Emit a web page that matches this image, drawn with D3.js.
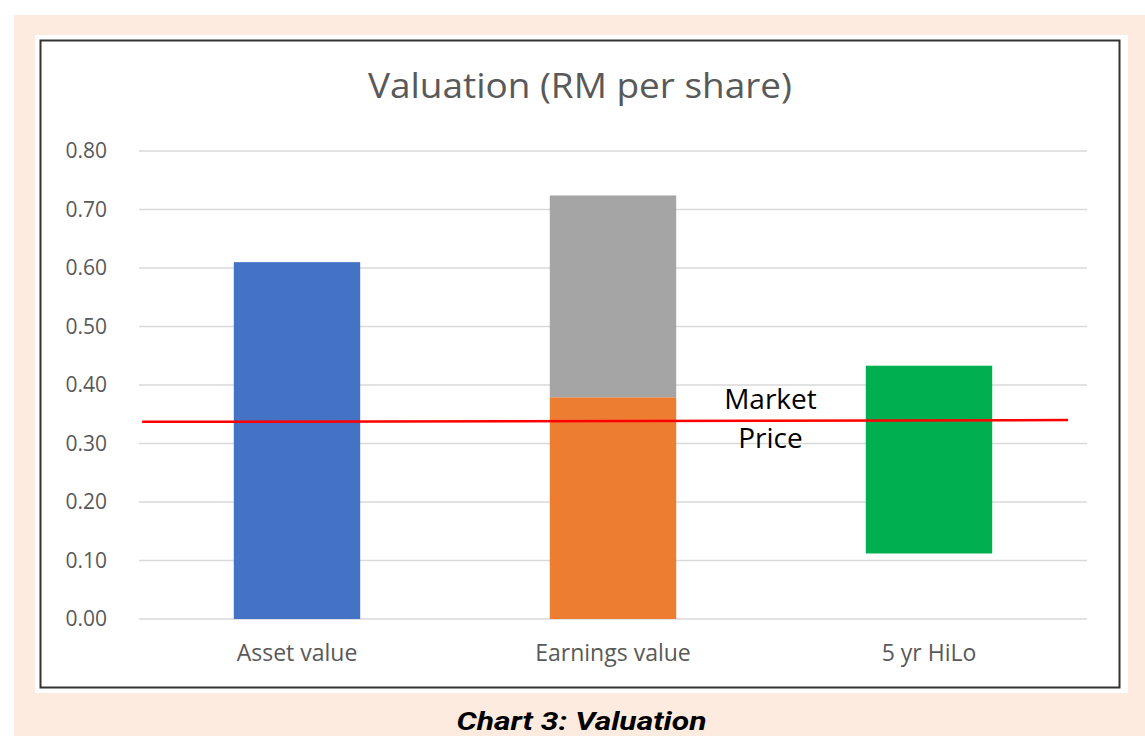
<!DOCTYPE html>
<html><head><meta charset="utf-8">
<script src="https://cdn.jsdelivr.net/npm/d3@7"></script>
<style>body{margin:0;background:#fff}svg{display:block}</style>
</head><body>
<svg id="c" width="1145" height="736"></svg>
<script>
const categories = ["Asset value", "Earnings value", "5 yr HiLo"];
const baseValues = [0.610, 0.379, 0.112];   // lower segment end (or invisible base for HiLo)
const topValues  = [0.610, 0.724, 0.433];   // top of each bar
const lowerColors = ["#4472C4", "#ED7D31", null];
const upperColors = [null, "#A5A5A5", "#00B050"];
const yTicks = [0, 0.1, 0.2, 0.3, 0.4, 0.5, 0.6, 0.7, 0.8];
const marketPos = [0.01, 2.94];     // positions along category axis (index units)
const marketVals = [0.337, 0.340];
const title = "Valuation (RM per share)";
const caption = "Chart 3: Valuation";
const marketLabel = ["Market", "Price"];

const svg = d3.select("#c");
svg.append("rect").attr("x",14).attr("y",15).attr("width",1131).attr("height",721).attr("fill","#FDEBDF");
svg.append("rect").attr("x",35).attr("y",35).attr("width",1093).attr("height",658).attr("fill","#fff");
svg.append("rect").attr("x",40.5).attr("y",40.5).attr("width",1079).attr("height",647).attr("fill","#fff").attr("stroke","#333").attr("stroke-width",2);

const L=139, R=1087, T=151, B=619;
const y = d3.scaleLinear().domain([0,0.8]).range([B,T]);
const x = d3.scaleBand().domain(categories).range([L,R]).paddingInner(0.6).paddingOuter(0.3);
const xl = d3.scaleLinear().domain([0,3]).range([L,R]);

const font = "'Open Sans', 'Liberation Sans', sans-serif";
svg.append("g").selectAll("line").data(yTicks).join("line")
  .attr("x1",L).attr("x2",R).attr("y1",d=>y(d)).attr("y2",d=>y(d))
  .attr("stroke","#D9D9D9").attr("stroke-width",1.3);
svg.append("g").selectAll("text").data(yTicks).join("text")
  .attr("x",107).attr("y",d=>y(d)).attr("dy","0.35em").attr("text-anchor","end")
  .attr("font-family",font).attr("font-size",21).attr("fill","#595959")
  .text(d=>d3.format(".2f")(d));

const g = svg.append("g");
categories.forEach((c,i)=>{
  if (lowerColors[i]) g.append("rect").attr("x",x(c)).attr("width",x.bandwidth())
    .attr("y",y(baseValues[i])).attr("height",y(0)-y(baseValues[i])).attr("fill",lowerColors[i]);
  if (upperColors[i]) g.append("rect").attr("x",x(c)).attr("width",x.bandwidth())
    .attr("y",y(topValues[i])).attr("height",y(baseValues[i])-y(topValues[i])).attr("fill",upperColors[i]);
});

svg.append("g").selectAll("text").data(categories).join("text")
  .attr("x",d=>x(d)+x.bandwidth()/2).attr("y",661).attr("text-anchor","middle")
  .attr("font-family",font).attr("font-size",23).attr("fill","#595959").text(d=>d);

const line = d3.line().x(d=>xl(d[0])).y(d=>y(d[1]));
svg.append("path").datum(marketPos.map((p,i)=>[p,marketVals[i]])).attr("d",line)
  .attr("fill","none").attr("stroke","#FF0000").attr("stroke-width",2.5);

svg.append("text").attr("x",580).attr("y",98).attr("text-anchor","middle")
  .attr("font-family",font).attr("font-size",35).attr("fill","#595959")
  .attr("textLength",424).attr("lengthAdjust","spacingAndGlyphs").text(title);

svg.selectAll(".ml").data(marketLabel).join("text").attr("class","ml")
  .attr("x",770.5).attr("y",(d,i)=>409+i*39).attr("text-anchor","middle")
  .attr("font-family",font).attr("font-size",28).attr("fill","#000").text(d=>d);

svg.append("text").attr("x",581.5).attr("y",729.5).attr("text-anchor","middle")
  .attr("font-family","Roboto, sans-serif").attr("font-size",26).attr("font-weight","bold")
  .attr("font-style","italic").attr("fill","#000")
  .attr("textLength",250).attr("lengthAdjust","spacingAndGlyphs").text(caption);
</script>
</body></html>
